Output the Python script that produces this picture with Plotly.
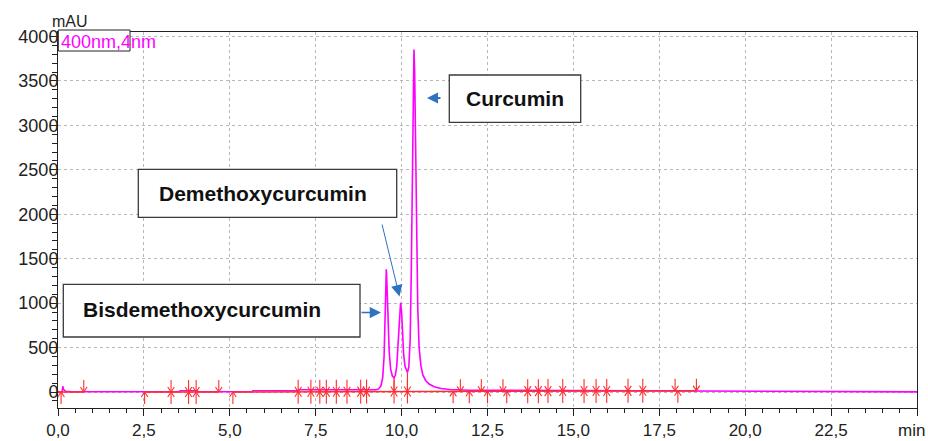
import numpy as np
import plotly.graph_objects as go

# ---------------- data ----------------
time_min = [0.00, 0.12, 0.14, 0.16, 0.22, 0.40, 3.52, 3.55, 4.05, 4.07, 5.65, 5.67, 6.98, 7.00,
            9.25, 9.33, 9.40, 9.45, 9.49, 9.52, 9.54, 9.555, 9.57, 9.60, 9.64, 9.68, 9.73, 9.78,
            9.82, 9.86, 9.90, 9.94, 9.97, 10.00, 10.03, 10.06, 10.10, 10.14, 10.17,
            10.21, 10.25, 10.28, 10.31, 10.34, 10.36, 10.38, 10.41, 10.44, 10.47, 10.51, 10.56,
            10.62, 10.70, 10.80, 10.95, 11.15, 11.40, 12.00, 18.60, 18.62, 20.50, 20.52, 25.00]
signal_mau = [0, 0, 65, 30, 8, 3, 3, 14, 14, 3, 3, 14, 14, 25,
              25, 35, 70, 160, 400, 800, 1200, 1380, 1250, 850, 450, 260, 180, 160,
              190, 300, 560, 900, 1005, 900, 650, 420, 290, 235, 220,
              280, 600, 1300, 2300, 3400, 3855, 3600, 2700, 1700, 950, 500, 300,
              190, 130, 90, 60, 40, 28, 20, 12, 8, 8, 2, 2]

# integration baseline segments (red)
baseline_start_t = [0.00, 2.52, 5.09]
baseline_end_t = [0.75, 4.68, 18.58]
baseline_start_v = [0, 0, 0]
baseline_end_v = [0, 0, 15]

# peak start/end markers
marker_down_t = [0.75, 3.29, 3.80, 4.02, 4.68, 6.99, 7.36, 7.62, 7.81, 8.10, 8.41, 8.81, 8.98,
                 9.78, 10.17, 11.71, 12.32, 12.95, 13.67, 13.98, 14.26, 14.69, 15.31, 15.66,
                 15.97, 16.59, 17.02, 17.96, 18.58]
marker_up_t = [0.09, 2.52, 3.29, 3.80, 4.02, 5.09, 6.99, 7.36, 7.62, 7.81, 8.10, 8.41, 8.81, 8.98,
               9.78, 10.17, 11.50, 11.97, 12.50, 13.06, 13.67, 13.98, 14.26, 14.69, 15.31, 15.66,
               15.97, 16.59, 17.02, 18.04]

# perpendicular drop lines between overlapping peaks
drop_t = [9.78, 10.17]
drop_v = [160, 220]

peak_names = ["Curcumin", "Demethoxycurcumin", "Bisdemethoxycurcumin"]

x_tick_vals = [0, 2.5, 5, 7.5, 10, 12.5, 15, 17.5, 20, 22.5, 25]
x_tick_text = ["0,0", "2,5", "5,0", "7,5", "10,0", "12,5", "15,0", "17,5", "20,0", "22,5", ""]
y_tick_vals = [0, 500, 1000, 1500, 2000, 2500, 3000, 3500, 4000]
y_tick_text = ["0", "500", "1000", "1500", "2000", "2500", "3000", "3500", "4000"]

# ---------------- geometry ----------------
W, H = 928, 441
ML, MR, MT, MB = 58, 11, 32, 33
PW, PH = W - ML - MR, H - MT - MB
X_RANGE = [0, 25]
Y_RANGE = [-180, 4051]
px_per_min = PW / (X_RANGE[1] - X_RANGE[0])
px_per_mau = PH / (Y_RANGE[1] - Y_RANGE[0])


def px(xp):
    return (xp - ML) / PW


def py(yp):
    return (H - MB - yp) / PH


RED = "#ff2d2d"
MAGENTA = "#ff00ff"
BLUE = "#2e72c2"

# baseline value at a time
bl_t = [0.0, 5.09, 18.58]
bl_v = [0.0, 0.0, 15.0]


def base(t):
    return float(np.interp(t, bl_t, bl_v))


stem = 12 / px_per_mau
head_h = 5 / px_per_mau
head_w = 3.3 / px_per_min

# build red marker polylines
mx, my = [], []
for s, e, sv, ev in zip(baseline_start_t, baseline_end_t, baseline_start_v, baseline_end_v):
    mx += [s, e, None]
    my += [sv, ev, None]

ax_, ay_ = [], []
for t in marker_down_t:
    b = base(t)
    ax_ += [t, t, None, t - head_w, t, t + head_w, None]
    ay_ += [b + stem, b, None, b + head_h, b, b + head_h, None]
for t in marker_up_t:
    b = base(t)
    ax_ += [t, t, None, t - head_w, t, t + head_w, None]
    ay_ += [b - stem, b, None, b - head_h, b, b - head_h, None]
for t, v in zip(drop_t, drop_v):
    b = base(t)
    ax_ += [t, t, None]
    ay_ += [b, v, None]

fig = go.Figure()
fig.add_trace(go.Scatter(x=time_min, y=signal_mau, mode="lines",
                         line=dict(color=MAGENTA, width=1.6), hoverinfo="skip"))
fig.add_trace(go.Scatter(x=mx, y=my, mode="lines",
                         line=dict(color=RED, width=1.5), hoverinfo="skip"))
fig.add_trace(go.Scatter(x=ax_, y=ay_, mode="lines",
                         line=dict(color=RED, width=1.1), hoverinfo="skip"))

GRID = dict(showgrid=True, gridcolor="#b8b8b8", gridwidth=1, griddash="3px,3px")
fig.update_layout(
    width=W, height=H,
    margin=dict(l=ML, r=MR, t=MT, b=MB, autoexpand=False),
    paper_bgcolor="white", plot_bgcolor="white",
    showlegend=False,
    font=dict(family="Liberation Sans, Arial, sans-serif", color="#222222"),
    xaxis=dict(range=X_RANGE, tickmode="array", tickvals=x_tick_vals, ticktext=x_tick_text,
               ticks="outside", ticklen=7, tickwidth=1, tickcolor="#222",
               minor=dict(tickmode="linear", tick0=0, dtick=0.5, ticks="outside", ticklen=4,
                          tickcolor="#222", showgrid=False),
               showline=True, linecolor="#222", linewidth=1, mirror=True, automargin=False,
               zeroline=False, tickfont=dict(size=17, color="#222"), ticklabelstandoff=0,
               **GRID),
    yaxis=dict(range=Y_RANGE, tickmode="array", tickvals=y_tick_vals, ticktext=y_tick_text,
               ticks="outside", ticklen=7, tickwidth=1, tickcolor="#222",
               minor=dict(tickmode="linear", tick0=0, dtick=100, ticks="outside", ticklen=5,
                          tickcolor="#222", showgrid=False),
               showline=True, linecolor="#222", linewidth=1, mirror=True, automargin=False,
               zeroline=False, tickfont=dict(size=18, color="#222"), ticklabelstandoff=-12,
               **GRID),
)

shapes = []
# legend box
shapes.append(dict(type="rect", xref="paper", yref="paper",
                   x0=px(58.3), x1=px(130), y0=py(51), y1=py(30),
                   line=dict(color="#222", width=1), fillcolor="white", layer="above"))
# peak label boxes
boxes = [(449.3, 580.7, 75, 122.3), (138.3, 396.7, 169.3, 217.3), (63.3, 360, 284.3, 337)]
for x0, x1, y0, y1 in boxes:
    shapes.append(dict(type="rect", xref="paper", yref="paper",
                       x0=px(x0), x1=px(x1), y0=py(y1), y1=py(y0),
                       line=dict(color="#3a3a3a", width=1.3), fillcolor="white", layer="above"))
fig.update_layout(shapes=shapes)

ann = []
ann.append(dict(text="mAU", xref="paper", yref="paper", x=px(70), y=py(22),
                xanchor="center", yanchor="middle", showarrow=False,
                font=dict(size=16, color="#222")))
ann.append(dict(text="min", xref="paper", yref="paper", x=px(911), y=py(430),
                xanchor="center", yanchor="middle", showarrow=False,
                font=dict(size=17, color="#222")))
ann.append(dict(text="400nm,4nm", xref="paper", yref="paper", x=px(58.5), y=py(42),
                xanchor="left", yanchor="middle", showarrow=False,
                font=dict(size=18, color=MAGENTA)))
label_pos = [(514.5, 98.5), (263, 193.5), (201.5, 309)]
for name, (xc, yc) in zip(peak_names, label_pos):
    ann.append(dict(text="<b>" + name + "</b>", xref="paper", yref="paper", x=px(xc), y=py(yc),
                    xanchor="center", yanchor="middle", showarrow=False,
                    font=dict(size=21, color="#111", family="Liberation Sans, Arial")))
# arrows (tip, tail offset, width, size)
arrows = [((427, 98), (15, 0), 2.0, 1.1),
          ((399.5, 296.5), (-17.8, -73.5), 1.0, 2.3),
          ((381, 312.5), (-21, 0), 1.5, 1.5)]
for (tx, ty), (dx, dy), w, s in arrows:
    ann.append(dict(text="", xref="paper", yref="paper", x=px(tx), y=py(ty),
                    ax=dx, ay=dy, showarrow=True, arrowhead=2, arrowwidth=w, arrowsize=s,
                    arrowcolor=BLUE, standoff=0))
fig.update_layout(annotations=ann)

fig.write_html("out.html", config={"displayModeBar": False},
               post_script="document.body.style.margin='0';document.body.style.overflow='hidden';")
